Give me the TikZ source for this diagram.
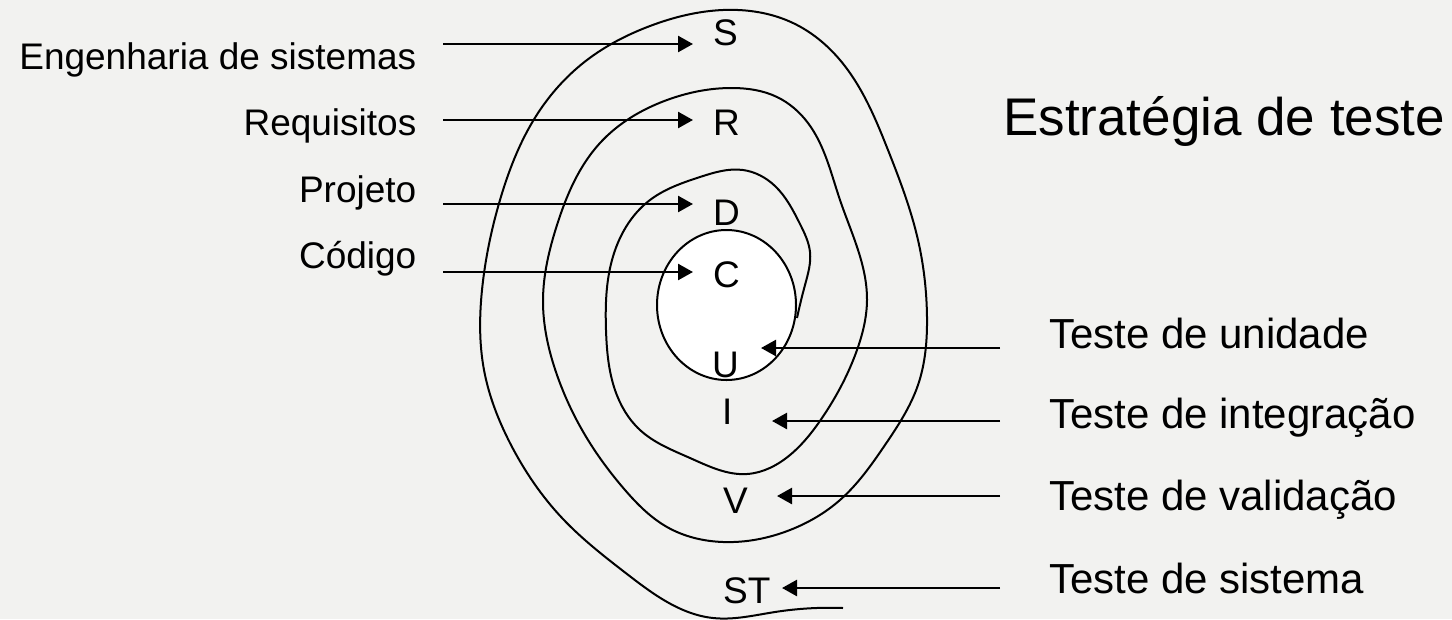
\documentclass[tikz,border=0pt]{standalone}
\usepackage{fontspec}
\setmainfont{Liberation Sans}
\usetikzlibrary{arrows.meta,shapes.geometric,hobby}
\definecolor{bg}{RGB}{242,242,240}
\begin{document}
\begin{tikzpicture}[x=1pt,y=-1pt,
  lbl/.style={inner sep=0pt, font=\fontsize{37}{40}\selectfont},
  rlbl/.style={inner sep=0pt, font=\fontsize{42}{46}\selectfont},
  ttl/.style={inner sep=0pt, font=\fontsize{53}{58}\selectfont},
  spiral/.style={line width=2pt, line join=round},
  arr/.style={line width=2.5pt, -{Triangle[length=15pt,width=16pt]}}]
\fill[bg] (0,0) rectangle (1452,619);
\useasboundingbox (0,0) rectangle (1452,619);

% spiral
\draw[spiral, use Hobby shortcut] (843,608) .. (775,612) .. (713,618)
  .. (627,574) .. (563,519) .. (510,443)
  .. (484,370) .. (482,290) .. (500,200) .. (540,110) .. (587,60)
  .. (650,26) .. (723,10) .. (793,23) .. (840,60) .. (888,150)
  .. (918,240) .. (927,317) .. (918,385) .. (885,445) .. (840,500)
  .. (790,530) .. (723,542)
  .. (667,527) .. (625,490) .. (585,435) .. (557,375)
  .. (543,300) .. (557,225) .. (600,143) .. (667,100) .. (733,88)
  .. (777,97) .. (808,123) .. (840,200) .. (867,300) .. (857,350)
  .. (822,418) .. (790,455) .. (747,474)
  .. (690,458) .. (640,430) .. (615,390) .. (606,330) .. (612,260)
  .. (650,200) .. (700,177) .. (743,170) .. (775,186) .. (800,224)
  .. (810,252) .. (805,285) .. (797,318);

% core
\node[ellipse, draw, fill=white, line width=2pt, minimum width=139pt,
      minimum height=150pt, inner sep=0pt] (core) at (726.5,305) {};

% left labels
\node[lbl, anchor=base east] (eng) at (416.5,69) {Engenharia de sistemas};
\node[lbl, anchor=base east] (req) at (416.5,135) {Requisitos};
\node[lbl, anchor=base east] (proj) at (416.5,202) {Projeto};
\node[lbl, anchor=base east] (cod) at (416.5,268) {Código};

% letters
\node[lbl, anchor=base west] (S) at (713,45) {S};
\node[lbl, anchor=base west] (R) at (713,135) {R};
\node[lbl, anchor=base west] (D) at (713,225) {D};
\node[lbl, anchor=base west] (C) at (713,287) {C};
\node[lbl, anchor=base west] (U) at (712,377) {U};
\node[lbl, anchor=base west] (I) at (722,424) {I};
\node[lbl, anchor=base west] (V) at (723,513) {V};
\node[lbl, anchor=base west] (ST) at (723,603) {ST};

% right labels
\node[rlbl, anchor=base west] (tu) at (1049,348) {Teste de unidade};
\node[rlbl, anchor=base west] (ti) at (1049,428) {Teste de integração};
\node[rlbl, anchor=base west] (tv) at (1049,510) {Teste de validação};
\node[rlbl, anchor=base west] (ts) at (1049,593) {Teste de sistema};

% title
\node[ttl, anchor=base west] (title) at (1003,135) {Estratégia de teste};

% arrow endpoints
\coordinate (aS) at (443,44);  \coordinate (tS) at (693,44);
\coordinate (aR) at (443,120); \coordinate (tR) at (693,120);
\coordinate (aD) at (443,204); \coordinate (tD) at (693,204);
\coordinate (aC) at (443,272); \coordinate (tC) at (693,272);
\coordinate (aU) at (1000,348); \coordinate (tU) at (761,348);
\coordinate (aI) at (1000,421); \coordinate (tI) at (772,421);
\coordinate (aV) at (1000,496); \coordinate (tV) at (777,496);
\coordinate (aT) at (1000,588); \coordinate (tT) at (782,588);

\draw[arr] (aS) -- (tS);
\draw[arr] (aR) -- (tR);
\draw[arr] (aD) -- (tD);
\draw[arr] (aC) -- (tC);
\draw[arr] (aU) -- (tU);
\draw[arr] (aI) -- (tI);
\draw[arr] (aV) -- (tV);
\draw[arr] (aT) -- (tT);
\end{tikzpicture}
\end{document}
